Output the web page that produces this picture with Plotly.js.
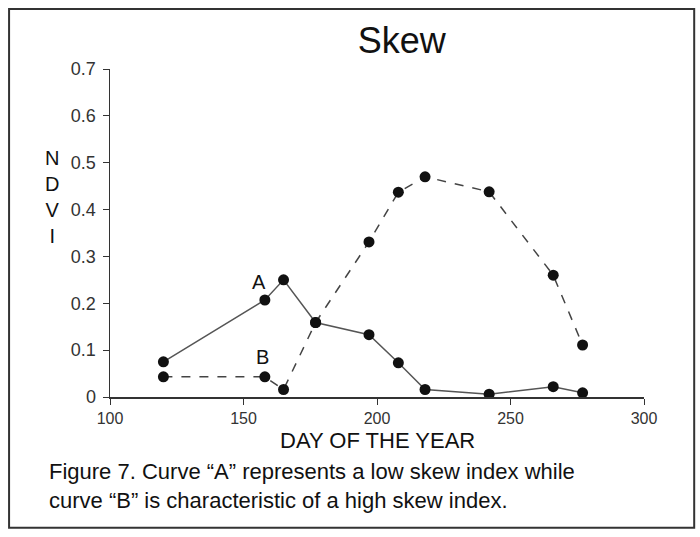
<!DOCTYPE html>
<html>
<head>
<meta charset="utf-8">
<script src="https://cdn.plot.ly/plotly-3.0.1.min.js"></script>
<style>html,body{margin:0;padding:0;background:#fff;}#chart{width:700px;height:537px;}</style>
</head>
<body>
<div id="chart"></div>
<script>
// Data
const days = [120, 158, 165, 177, 197, 208, 218, 242, 266, 277];
const ndviA = [0.075, 0.207, 0.25, 0.159, 0.133, 0.073, 0.016, 0.006, 0.022, 0.009];
const ndviB = [0.043, 0.043, 0.016, 0.159, 0.331, 0.437, 0.470, 0.438, 0.260, 0.111];
const xTicks = [100, 150, 200, 250, 300];
const yTicks = [0, 0.1, 0.2, 0.3, 0.4, 0.5, 0.6, 0.7];
const titleText = "Skew";
const xTitle = "DAY OF THE YEAR";
const yTitle = "N<br>D<br>V<br>I";
const caption = "Figure 7. Curve \u201CA\u201D represents a low skew index while<br>curve \u201CB\u201D is characteristic of a high skew index.";

const font = "Liberation Sans, Arial, sans-serif";

const traces = [
  {x: days, y: ndviA, mode: "lines+markers", name: "A",
   line: {color: "#555", width: 1.5, dash: "solid"},
   marker: {color: "#111", size: 11}},
  {x: days, y: ndviB, mode: "lines+markers", name: "B",
   line: {color: "#444", width: 1.5, dash: "dash"},
   marker: {color: "#111", size: 11}}
];

const layout = {
  width: 700, height: 537,
  margin: {l: 110, r: 56, t: 69, b: 140},
  paper_bgcolor: "#fff", plot_bgcolor: "#fff",
  showlegend: false,
  font: {family: font, color: "#222"},
  title: {text: titleText, font: {size: 36, color: "#111", family: font},
          xref: "container", x: 0.574, xanchor: "center",
          yref: "container", y: 0.925, yanchor: "middle"},
  xaxis: {range: [100, 300], tickvals: xTicks, ticks: "outside", ticklen: 6,
          tickcolor: "#333", showline: true, linecolor: "#333", linewidth: 1.5,
          showgrid: false, zeroline: false, ticklabelstandoff: 0,
          tickfont: {size: 16, color: "#333"}},
  yaxis: {range: [0, 0.7], tickvals: yTicks, ticks: "outside", ticklen: 6,
          tickcolor: "#333", showline: true, linecolor: "#333", linewidth: 1.5,
          showgrid: false, zeroline: false, ticklabelstandoff: 3,
          tickfont: {size: 18, color: "#333"}},
  annotations: [
    {text: "A", x: 155.8, y: 0.245, xref: "x", yref: "y", showarrow: false,
     font: {size: 20, color: "#111"}},
    {text: "B", x: 157.3, y: 0.085, xref: "x", yref: "y", showarrow: false,
     font: {size: 20, color: "#111"}},
    {text: xTitle, xref: "paper", yref: "paper", x: 0.5, y: -0.134,
     xanchor: "center", yanchor: "middle", showarrow: false,
     font: {size: 22, color: "#111"}},
    {text: yTitle, xref: "paper", yref: "paper", x: -0.107, y: 0.61,
     xanchor: "center", yanchor: "middle", showarrow: false, align: "center",
     font: {size: 20, color: "#111"}},
    {text: caption, xref: "paper", yref: "paper", x: -0.118, y: -0.182,
     xanchor: "left", yanchor: "top", showarrow: false, align: "left",
     font: {size: 22, color: "#111"}}
  ],
  shapes: [
    {type: "rect", xref: "paper", yref: "paper",
     x0: -0.189, x1: 1.094, y0: -0.399, y1: 1.183,
     line: {color: "#333", width: 2}}
  ]
};

Plotly.newPlot("chart", traces, layout, {displayModeBar: false, staticPlot: true});
</script>
</body>
</html>
